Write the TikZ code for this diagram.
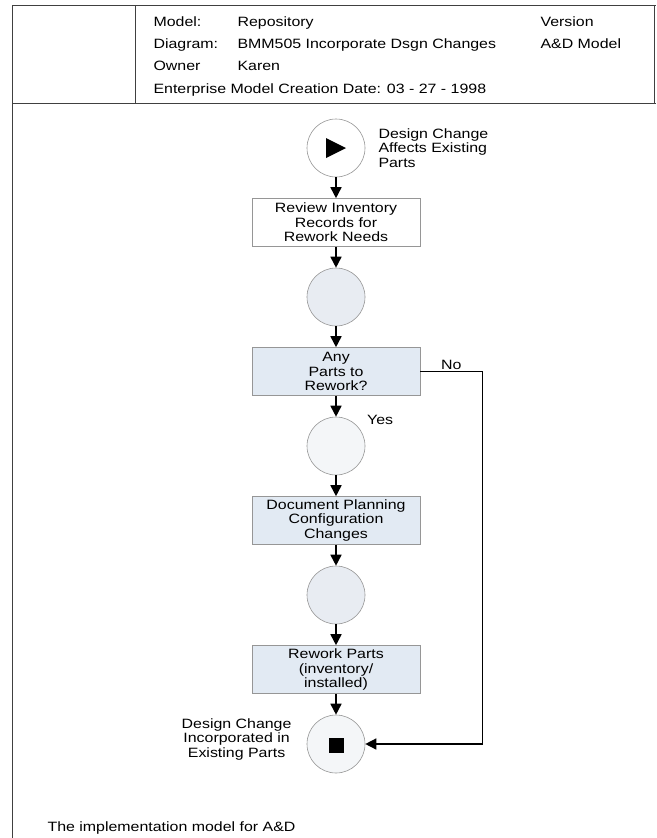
\documentclass[tikz,border=0pt]{standalone}
\usepackage{fontspec}
\setmainfont{Liberation Sans}[FakeStretch=1.18]
\usetikzlibrary{arrows.meta,positioning}

\definecolor{boxfill}{RGB}{226,234,243}
\definecolor{linegray}{RGB}{150,150,150}
\definecolor{stategray}{RGB}{232,236,242}
\definecolor{statelight}{RGB}{244,246,248}

\begin{document}
\begin{tikzpicture}[x=1pt, y=-1pt, node distance = 74.5pt, on grid,
>={Triangle[length=11pt,width=11pt]},
every node/.style={font=\fontsize{13.5}{14.5}\selectfont},
event/.style={circle, draw=linegray, line width=0.6pt, minimum size=58pt, inner sep=0pt},
task/.style={rectangle, draw=linegray, line width=0.6pt, minimum width=168pt, minimum height=48pt, align=center, inner sep=1pt},
flow/.style={->, line width=1.6pt},
frame/.style={line width=0.8pt, draw=black!75}]
\useasboundingbox (0,0) rectangle (656,838);
% frame and header
\draw [frame] (12,5) -- (656,5);
\draw [frame] (12,5) -- (12,838);
\draw [frame] (135,5) -- (135,103);
\draw [frame] (654,5) -- (654,103);
\draw [frame] (12,103) -- (656,103);
\node [anchor=base west] (hmodel) at (150,26) {Model:};
\node [anchor=base west] (hrepo) at (234,26) {Repository};
\node [anchor=base west] (hversion) at (537,26) {Version};
\node [anchor=base west] (hdiagram) at (150,48) {Diagram:};
\node [anchor=base west] (hname) at (234,48) {BMM505 Incorporate Dsgn Changes};
\node [anchor=base west] (hmodelname) at (537,48) {A\&D Model};
\node [anchor=base west] (howner) at (150,70) {Owner};
\node [anchor=base west] (hkaren) at (234,70) {Karen};
\node [anchor=base west] (hdate) at (150,93) {Enterprise Model Creation Date: 03 - 27 - 1998};

% process
\node [event, fill=white] (start) at (336,148) {};
\node [task, fill=white] (review) [below = of start] {Review Inventory\\Records for\\Rework Needs};
\node [event, fill=stategray] (found) [below = of review] {};
\node [task, fill=boxfill] (check) [below = of found] {Any\\Parts to\\Rework?};
\node [event, fill=statelight] (pass) [below = of check] {};
\node [task, fill=boxfill] (document) [below = of pass] {Document Planning\\Configuration\\Changes};
\node [event, fill=stategray] (planned) [below = of document] {};
\node [task, fill=boxfill] (rework) [below = of planned] {Rework Parts\\(inventory/\\installed)};
\node [event, fill=statelight] (finish) [below = of rework] {};

\fill ([xshift=-10pt,yshift=10pt]start.center) -- ++(20,10) -- ++(-20,10) -- cycle;
\fill ([xshift=-7.5pt,yshift=6.5pt]finish.center) rectangle ++(15,15);

\node [anchor=west, align=left, inner sep=0pt] (startlbl) at ([xshift=13pt]start.east) {Design Change\\Affects Existing\\Parts};
\node [anchor=east, align=center, inner sep=0pt] (endlbl) at ([xshift=-15pt,yshift=5pt]finish.west) {Design Change\\Incorporated in\\Existing Parts};
\node [anchor=west, inner sep=0pt] (yeslbl) at ([xshift=31pt,yshift=-3pt]pass.north) {Yes};

\path [flow]
(start) edge (review)
(review) edge (found)
(found) edge (check)
(check) edge (pass)
(pass) edge (document)
(document) edge (planned)
(planned) edge (rework)
(rework) edge (finish);
\draw [flow, line width=1.4pt] (check.east) -- node [above, inner sep=1pt] (nolbl) {No} ++(62,0) |- (finish);

\node [anchor=base west] (caption) at (44,831) {The implementation model for A\&D};
\end{tikzpicture}
\end{document}
